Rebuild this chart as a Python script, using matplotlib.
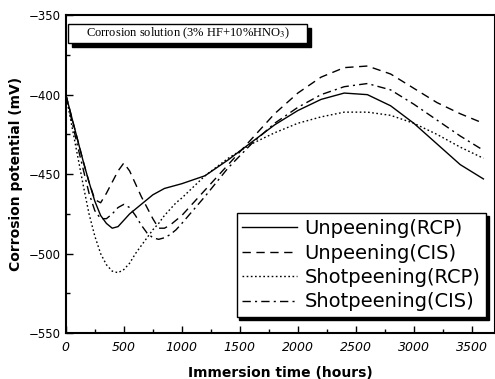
import matplotlib.pyplot as plt
from matplotlib.ticker import MultipleLocator
from matplotlib.patches import Rectangle

plt.rcParams['mathtext.fontset'] = 'stix'

# Immersion time (hours)
hours = [0, 50, 100, 150, 200, 250, 300, 350, 400, 450, 500, 550, 600, 650,
         700, 750, 800, 850, 900, 950, 1000,
         1200, 1400, 1600, 1800, 2000, 2200, 2400, 2600, 2800, 3000,
         3200, 3400, 3600]

# Corrosion potential (mV)
unpeen_rcp = [-400, -414, -428, -442, -455, -467, -476, -481, -484, -483, -479,
              -475, -472, -469, -466, -463, -461, -459, -458, -457, -456,
              -451, -441, -430, -419, -410, -403, -399, -400, -407, -418,
              -431, -444, -453]
unpeen_cis = [-400, -414, -428, -442, -455, -466, -468, -462, -455, -448, -443,
              -448, -456, -464, -471, -478, -484, -484, -482, -479, -476,
              -460, -444, -428, -412, -399, -389, -383, -382, -387, -396,
              -405, -412, -418]
shot_rcp = [-400, -419, -438, -457, -475, -489, -500, -507, -511, -512, -510,
            -506, -500, -495, -490, -485, -481, -476, -472, -468, -465,
            -451, -440, -431, -424, -418, -414, -411, -411, -413, -418,
            -425, -433, -440]
shot_cis = [-400, -416, -432, -447, -462, -473, -478, -478, -475, -471, -469,
            -471, -476, -482, -487, -490, -491, -490, -488, -485, -481,
            -464, -446, -431, -418, -408, -400, -395, -393, -397, -406,
            -416, -426, -435]

labels = ['Unpeening(RCP)', 'Unpeening(CIS)', 'Shotpeening(RCP)', 'Shotpeening(CIS)']

fig = plt.figure(figsize=(4.95, 3.79), dpi=100)
ax = fig.add_axes([0.133, 0.121, 0.867, 0.839])

ax.plot(hours, unpeen_rcp, color='k', lw=1.0, ls='-', label=labels[0])
ax.plot(hours, unpeen_cis, color='k', lw=1.0, ls=(0, (6, 4)), label=labels[1])
ax.plot(hours, shot_rcp, color='k', lw=1.0, ls=(0, (1.2, 1.8)), label=labels[2])
ax.plot(hours, shot_cis, color='k', lw=1.0, ls=(0, (6, 3, 1.5, 3)), label=labels[3])

ax.set_xlim(0, 3700)
ax.set_ylim(-550, -350)
ax.xaxis.set_major_locator(MultipleLocator(500))
ax.xaxis.set_minor_locator(MultipleLocator(250))
ax.yaxis.set_major_locator(MultipleLocator(50))
ax.yaxis.set_minor_locator(MultipleLocator(25))
ax.tick_params(which='both', direction='in', top=False, right=False)
ax.tick_params(which='major', length=5, width=1)
ax.tick_params(which='minor', length=3, width=1)
ax.tick_params(axis='x', labelsize=9, pad=6)
ax.tick_params(axis='y', labelsize=8.5)
for t in ax.get_xticklabels():
    t.set_style('italic')
for s in ax.spines.values():
    s.set_linewidth(1.5)

ax.set_xlabel('Immersion time (hours)', fontsize=10, fontweight='bold', labelpad=8)
ax.set_ylabel('Corrosion potential (mV)', fontsize=10, fontweight='bold', labelpad=4)

leg = ax.legend(loc='lower right', bbox_to_anchor=(0.98, 0.05), fontsize=14,
                frameon=True, fancybox=False, edgecolor='k', framealpha=1,
                handlelength=2.8, handletextpad=0.4, labelspacing=0.28,
                borderpad=0.3, borderaxespad=0,
                shadow={'color': 'k', 'alpha': 1})
leg.get_frame().set_linewidth(1.0)

# solution box with shadow
ax.add_patch(Rectangle((0.014, 0.899), 0.557, 0.06, transform=ax.transAxes,
                       facecolor='k', edgecolor='k', zorder=4))
ax.add_patch(Rectangle((0.005, 0.912), 0.557, 0.06, transform=ax.transAxes,
                       facecolor='white', edgecolor='k', lw=1.0, zorder=5))
ax.text(0.284, 0.942, 'Corrosion solution (3% HF+10%HNO$_3$)', transform=ax.transAxes,
        ha='center', va='center', fontsize=9, family='Liberation Serif', zorder=6)

plt.savefig('out.png', dpi=100)
